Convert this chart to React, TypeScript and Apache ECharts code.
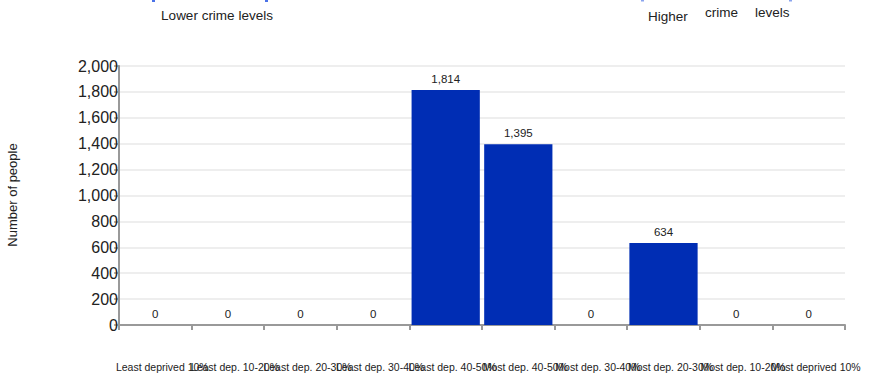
import React, { useEffect, useRef } from "react";
import * as echarts from "echarts";

const categories = [
  "Least deprived 10%",
  "Least dep. 10-20%",
  "Least dep. 20-30%",
  "Least dep. 30-40%",
  "Least dep. 40-50%",
  "Most dep. 40-50%",
  "Most dep. 30-40%",
  "Most dep. 20-30%",
  "Most dep. 10-20%",
  "Most deprived 10%",
];
const people = [0, 0, 0, 0, 1814, 1395, 0, 634, 0, 0];
const yTicks = { min: 0, max: 2000, interval: 200 };
const yAxisTitle = "Number of people";
const lowerLabel = "Lower crime levels";
const higherWords = ["Higher", "crime", "levels"];

const FONT = "'Liberation Sans', Arial, sans-serif";

export default function App() {
  const ref = useRef<HTMLDivElement>(null);
  useEffect(() => {
    if (!ref.current) return;
    const chart = echarts.init(ref.current, null, { renderer: "svg" });
    const fmt = (v: number) => v.toLocaleString("en-US");
    chart.setOption({
      animation: false,
      textStyle: { fontFamily: FONT },
      grid: { left: 119, right: 25, top: 66, bottom: 51, containLabel: false },
      xAxis: {
        type: "category",
        data: categories,
        axisLine: { lineStyle: { color: "#999", width: 2 } },
        axisTick: { show: true, length: 5, lineStyle: { color: "#999", width: 2 } },
        axisLabel: {
          interval: 0,
          margin: 36,
          fontSize: 10.5,
          color: "#222",
          fontFamily: FONT,
          hideOverlap: false,
          padding: [0, 0, 0, 14],
        },
        splitLine: { show: false },
      },
      yAxis: {
        type: "value",
        min: yTicks.min,
        max: yTicks.max,
        interval: yTicks.interval,
        axisLine: { show: true, lineStyle: { color: "#999", width: 2 } },
        axisTick: { show: true, length: 5, lineStyle: { color: "#999", width: 1.5 } },
        axisLabel: {
          margin: 1,
          fontSize: 16,
          color: "#222",
          fontFamily: FONT,
          formatter: fmt,
        },
        splitLine: { show: true, lineStyle: { color: "#eeeeee", width: 2 } },
      },
      series: [
        {
          type: "bar",
          data: people,
          barCategoryGap: "6%",
          itemStyle: { color: "#002db4" },
          label: {
            show: true,
            position: "top",
            distance: 5,
            fontSize: 11.5,
            color: "#222",
            fontFamily: FONT,
            formatter: (p: any) => fmt(p.value),
          },
        },
      ],
      graphic: [
        {
          type: "text",
          x: 12,
          y: 195,
          rotation: Math.PI / 2,
          style: {
            text: yAxisTitle,
            fontSize: 13,
            fill: "#222",
            fontFamily: FONT,
            align: "center",
            verticalAlign: "middle",
          },
        },
        {
          type: "text",
          x: 217,
          y: 15,
          style: {
            text: lowerLabel,
            fontSize: 13.5,
            fill: "#222",
            fontFamily: FONT,
            align: "center",
            verticalAlign: "middle",
          },
        },
        {
          type: "text",
          x: 648,
          y: 16,
          style: { text: higherWords[0], fontSize: 13.5, fill: "#222", fontFamily: FONT, verticalAlign: "middle" },
        },
        {
          type: "text",
          x: 705,
          y: 12,
          style: { text: higherWords[1], fontSize: 13.5, fill: "#222", fontFamily: FONT, verticalAlign: "middle" },
        },
        {
          type: "text",
          x: 755,
          y: 12,
          style: { text: higherWords[2], fontSize: 13.5, fill: "#222", fontFamily: FONT, verticalAlign: "middle" },
        },
        { type: "rect", shape: { x: 152, y: 0, width: 3, height: 2 }, style: { fill: "#4a72e8" } },
        { type: "rect", shape: { x: 265, y: 0, width: 3, height: 2 }, style: { fill: "#4a72e8" } },
        { type: "rect", shape: { x: 641, y: 0, width: 3, height: 1.5 }, style: { fill: "#8aa4ee" } },
        { type: "rect", shape: { x: 789, y: 0, width: 3, height: 1.5 }, style: { fill: "#8aa4ee" } },
      ],
    });
    return () => chart.dispose();
  }, []);
  return <div ref={ref} style={{ width: 870, height: 376, position: "absolute", left: 0, top: 0 }} />;
}
